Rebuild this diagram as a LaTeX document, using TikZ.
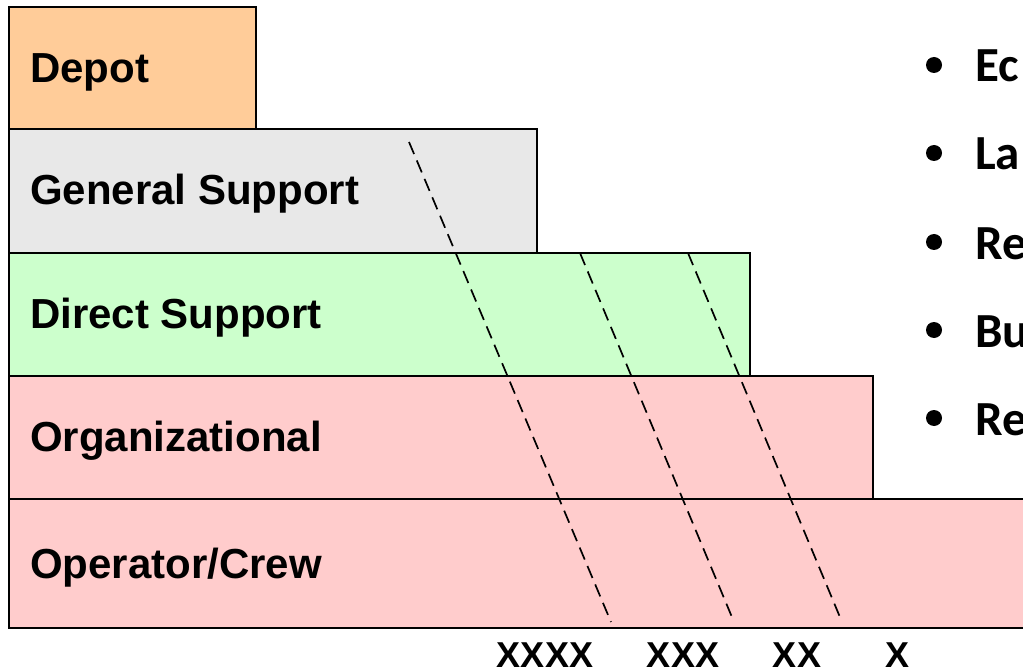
\documentclass[tikz,border=0pt]{standalone}
\usepackage{fontspec}
\setmainfont{Liberation Sans}
\newfontfamily\calib{Carlito}
\begin{document}
\begin{tikzpicture}[x=1pt,y=-1pt,
  box/.style={draw=black,line width=1.5pt,anchor=north west,inner sep=0pt,outer sep=0pt},
  lbl/.style={anchor=base west,inner sep=0pt,font=\fontsize{42}{42}\selectfont\bfseries},
  xl/.style={anchor=base,inner sep=0pt,font=\fontsize{36}{36}\selectfont\bfseries},
  bl/.style={anchor=base west,inner sep=0pt,font=\calib\fontsize{49}{49}\selectfont\bfseries},
  bul/.style={circle,fill=black,inner sep=0pt,minimum size=16pt},
  dline/.style={dash pattern=on 13pt off 7pt,line width=1.7pt}]
\useasboundingbox (0,0) rectangle (1023,671);
\clip (0,0) rectangle (1023,671);
\definecolor{depotc}{HTML}{FFCC99}
\definecolor{gsc}{HTML}{E8E8E8}
\definecolor{dsc}{HTML}{CCFFCC}
\definecolor{orgc}{HTML}{FFCCCC}
% boxes
\node[box,fill=depotc,minimum width=247pt,minimum height=122pt] (depot) at (9,7) {};
\node[box,fill=gsc,minimum width=528pt,minimum height=124pt] (gs) at (9,129) {};
\node[box,fill=dsc,minimum width=741pt,minimum height=123pt] (ds) at (9,253) {};
\node[box,fill=orgc,minimum width=864pt,minimum height=123pt] (org) at (9,376) {};
\node[box,fill=orgc,minimum width=1040pt,minimum height=129pt] (op) at (9,499) {};
% labels
\node[lbl] (depotL) at (30,83) {Depot};
\node[lbl] (gsL) at (30,205) {General Support};
\node[lbl] (dsL) at (30,328) {Direct Support};
\node[lbl] (orgL) at (30,451) {Organizational};
\node[lbl] (opL) at (30,578) {Operator/Crew};
% dashed lines
\coordinate (a1) at (409,142); \coordinate (a2) at (611,622);
\coordinate (b1) at (580,253); \coordinate (b2) at (734,622);
\coordinate (c1) at (688,253); \coordinate (c2) at (842,622);
\draw[dline] (a1) -- (a2);
\draw[dline] (b1) -- (b2);
\draw[dline] (c1) -- (c2);
% bottom labels
\node[xl] (x4) at (545,667) {XXXX};
\node[xl] (x3) at (683,667) {XXX};
\node[xl] (x2) at (797,667) {XX};
\node[xl] (x1) at (897,667) {X};
% bullets
\node[bul] (b1d) at (934,65) {};  \node[bl] (b1t) at (975,82) {Ec};
\node[bul] (b2d) at (934,153) {}; \node[bl] (b2t) at (975,170) {La};
\node[bul] (b3d) at (934,242) {}; \node[bl] (b3t) at (975,259) {Re};
\node[bul] (b4d) at (934,330) {}; \node[bl] (b4t) at (975,347) {Bu};
\node[bul] (b5d) at (934,418) {}; \node[bl] (b5t) at (975,435) {Re};
\end{tikzpicture}
\end{document}
